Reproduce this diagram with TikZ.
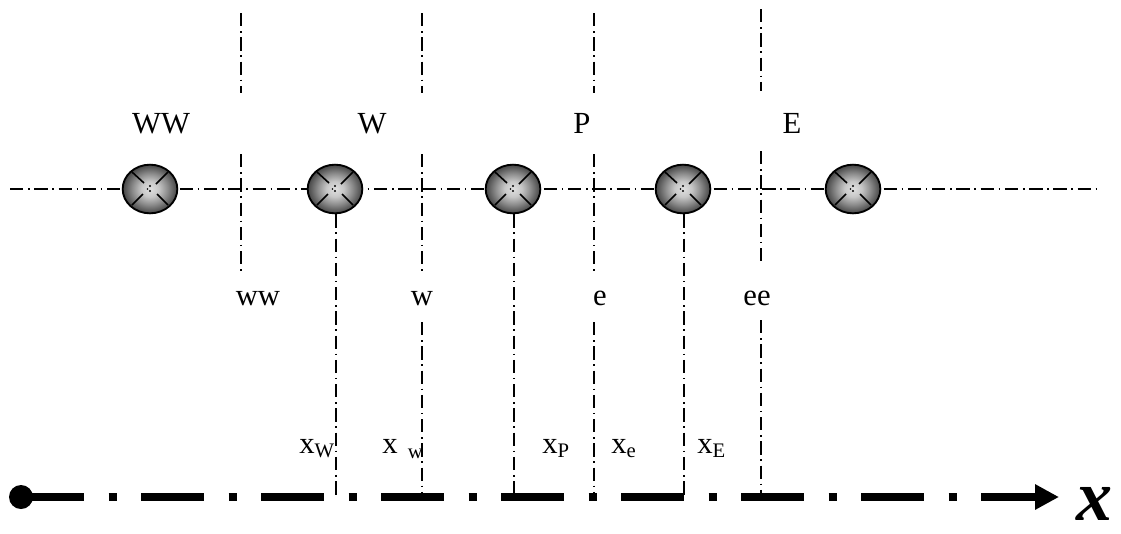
\documentclass[tikz,border=0pt]{standalone}
\usepackage{fontspec}
\setmainfont{Liberation Serif}
\usetikzlibrary{shapes.geometric,arrows.meta}
\newcommand\lsub[1]{\raisebox{-3pt}{\fontsize{15.5}{15.5}\selectfont #1}}
\pgfdeclareradialshading{ballshade}{\pgfpoint{0bp}{0bp}}{%
  color(0bp)=(black!12); color(8bp)=(black!22); color(16bp)=(black!45); color(24bp)=(black!70); color(32bp)=(black!85); color(50bp)=(black!90)}
\begin{document}
\begin{tikzpicture}[x=0.75pt,y=-0.75pt,
  dd/.style={line width=1.1pt, dash pattern=on 10pt off 3.5pt on 1.2pt off 3.5pt},
  cell/.style={ellipse, draw=black, line width=1.4pt, minimum width=41pt, minimum height=36.5pt,
    inner sep=0pt, shading=ballshade,
    path picture={
      \draw[line width=1.2pt] ([shift={(-18,-17)}]path picture bounding box.center) -- ([shift={(-6,-6)}]path picture bounding box.center);
      \draw[line width=1.2pt] ([shift={(18,-17)}]path picture bounding box.center) -- ([shift={(6,-5)}]path picture bounding box.center);
      \draw[line width=1.2pt] ([shift={(-18,16)}]path picture bounding box.center) -- ([shift={(-7,5)}]path picture bounding box.center);
      \draw[line width=1.2pt] ([shift={(18,16)}]path picture bounding box.center) -- ([shift={(7,5)}]path picture bounding box.center);
      \fill ([shift={(0,-3)}]path picture bounding box.center) circle (0.8pt);
      \fill ([shift={(0,2)}]path picture bounding box.center) circle (0.8pt);
      \fill ([shift={(-2.5,0)}]path picture bounding box.center) circle (0.6pt);
    }},
  lbl/.style={font=\fontsize{23}{23}\selectfont, inner sep=0pt, anchor=base},
  axisline/.style={line width=5.4pt, dash pattern=on 47.5pt off 18.25pt on 6pt off 18.25pt,
    -{Triangle[length=18pt,width=18pt]}}
  ]
\useasboundingbox (0,0) rectangle (1121,533);

% horizontal grid line
\coordinate (hl) at (10,189);
\coordinate (hr) at (1100,189);
\draw[dd] (hl) -- (hr);

% face lines, top parts
\coordinate (wwT1) at (241,13); \coordinate (wwT2) at (241,93);
\coordinate (wT1) at (422,13);  \coordinate (wT2) at (422,93);
\coordinate (eT1) at (594,13);  \coordinate (eT2) at (594,93);
\coordinate (eeT1) at (761,9);  \coordinate (eeT2) at (761,91);
\draw[dd] (wwT1) -- (wwT2);
\draw[dd] (wT1) -- (wT2);
\draw[dd] (eT1) -- (eT2);
\draw[dd] (eeT1) -- (eeT2);

% axis points
\coordinate (aww) at (241,272);
\coordinate (aw) at (422,497);
\coordinate (ae) at (594,497);
\coordinate (aee) at (761,497);
\coordinate (aW) at (336,497);
\coordinate (aP) at (514,497);
\coordinate (aE) at (684,497);

% face lines, lower parts (interrupted by labels)
\coordinate (wwB) at (241,154);
\coordinate (wB) at (422,154);   \coordinate (wM1) at (422,272); \coordinate (wM2) at (422,322);
\coordinate (eB) at (594,154);   \coordinate (eM1) at (594,272); \coordinate (eM2) at (594,322);
\coordinate (eeB) at (761,151);  \coordinate (eeM1) at (761,265); \coordinate (eeM2) at (761,320);
\draw[dd] (wwB) -- (aww);
\draw[dd] (wB) -- (wM1);  \draw[dd] (wM2) -- (aw);
\draw[dd] (eB) -- (eM1);  \draw[dd] (eM2) -- (ae);
\draw[dd] (eeB) -- (eeM1); \draw[dd] (eeM2) -- (aee);

% cells
\node[cell] (cWW) at (150,189) {};
\node[cell] (cW) at (335,189) {};
\node[cell] (cP) at (513,189) {};
\node[cell] (cE) at (683,189) {};
\node[cell] (cEE) at (853,189) {};

% node lines
\draw[dd] (cW.south -| aW) -- (aW);
\draw[dd] (cP.south -| aP) -- (aP);
\draw[dd] (cE.south -| aE) -- (aE);

% top labels
\node[lbl] (tWW) at (161,133) {WW};
\node[lbl] (tW) at (372,133) {W};
\node[lbl] (tP) at (582,133) {P};
\node[lbl] (tE) at (792,133) {E};

% face labels
\node[lbl] (tww) at (258,305) {ww};
\node[lbl] (tw) at (422,305) {w};
\node[lbl] (te) at (600,305) {e};
\node[lbl] (tee) at (757,305) {ee};

% position labels
\node[lbl, anchor=base west] (xW) at (299,453) {x\lsub{W}};
\node[lbl, anchor=base west] (xw) at (382,453) {x\,\,\raisebox{-4pt}{\fontsize{15.5}{15.5}\selectfont w}};
\node[lbl, anchor=base west] (xP) at (542,453) {x\lsub{P}};
\node[lbl, anchor=base west] (xe) at (611,453) {x\lsub{e}};
\node[lbl, anchor=base west] (xE) at (697,453) {x\lsub{E}};

% axis
\coordinate (a0) at (21,497);
\coordinate (a1) at (1059,497);
\fill (a0) circle (9pt);
\draw[axisline] (a0) -- (a1);
\node[inner sep=0pt, anchor=base, font=\fontsize{54}{54}\selectfont\bfseries\itshape] (xlab) at (1094,520) {x};
\end{tikzpicture}
\end{document}
